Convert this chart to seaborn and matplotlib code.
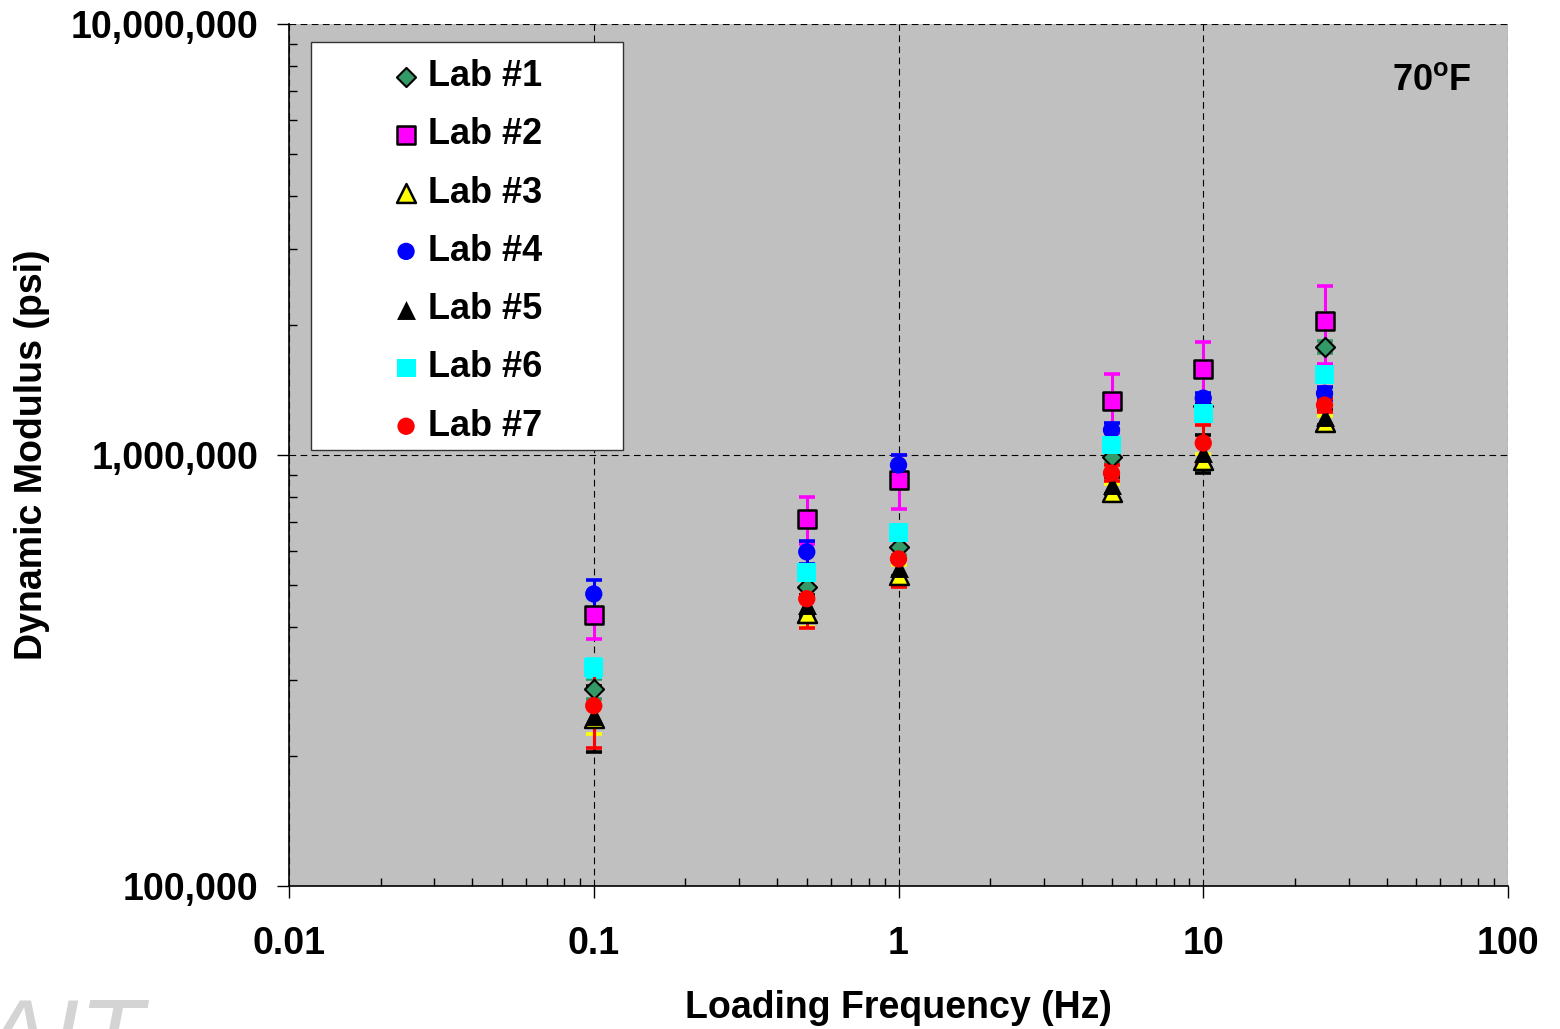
import matplotlib
matplotlib.use('Agg')
import matplotlib.pyplot as plt
import seaborn as sns
import pandas as pd
from matplotlib.patches import Rectangle
from matplotlib.ticker import FixedLocator, FixedFormatter, LogLocator, NullFormatter

# ---------------- data ----------------
freqs = [0.1, 0.5, 1, 5, 10, 25]
lab_names = ['Lab #1', 'Lab #2', 'Lab #3', 'Lab #4', 'Lab #5', 'Lab #6', 'Lab #7']

lab1 = [287000, 494000, 612000, 990000, 1300000, 1780000]
lab2 = [425000, 710000, 875000, 1334000, 1583000, 2046000]
lab3 = [245000, 430000, 527000, 821000, 974000, 1190000]
lab4 = [476000, 596000, 948000, 1143000, 1355000, 1390000]
lab5 = [248000, 449000, 548000, 851000, 1010000, 1225000]
lab6 = [321000, 535000, 662000, 1055000, 1250000, 1540000]
lab7 = [262000, 464000, 574000, 908000, 1066000, 1306000]

lab1_err = [15000, 20000, 25000, 30000, 40000, 60000]
lab2_err = [51000, 89000, 125000, 208000, 247000, 420000]
lab3_err = [20000, 30000, 30000, 35000, 30000, 40000]
lab4_err = [37000, 36000, 52000, 45000, 40000, 50000]
lab5_err = [43000, 25000, 25000, 40000, 100000, 50000]
lab6_err = [15000, 20000, 20000, 25000, 30000, 30000]
lab7_err = [53000, 67000, 80000, 40000, 107000, 50000]

x_ticks = [0.01, 0.1, 1, 10, 100]
x_tick_labels = ['0.01', '0.1', '1', '10', '100']
y_ticks = [1e5, 1e6, 1e7]
y_tick_labels = ['100,000', '1,000,000', '10,000,000']

values = [lab1, lab2, lab3, lab4, lab5, lab6, lab7]
errors = [lab1_err, lab2_err, lab3_err, lab4_err, lab5_err, lab6_err, lab7_err]

rows = []
for name, vals, errs in zip(lab_names, values, errors):
    for f, v, e in zip(freqs, vals, errs):
        rows.append({'lab': name, 'freq': f, 'modulus': v, 'err': e})
df = pd.DataFrame(rows)

# ---------------- styles ----------------
styles = {
    'Lab #1': dict(marker='D', fill='#339966', edge='black', lw=1.5, s=95, ecol='#339966'),
    'Lab #2': dict(marker='s', fill='#FF00FF', edge='black', lw=1.8, s=165, ecol='#FF00FF'),
    'Lab #3': dict(marker='^', fill='#FFFF00', edge='black', lw=1.8, s=185, ecol='#FFFF00'),
    'Lab #4': dict(marker='o', fill='#0000FF', edge='none', lw=0, s=155, ecol='#0000FF'),
    'Lab #5': dict(marker='^', fill='black', edge='black', lw=0, s=185, ecol='black'),
    'Lab #6': dict(marker='s', fill='#00FFFF', edge='none', lw=0, s=185, ecol='#00FFFF'),
    'Lab #7': dict(marker='o', fill='#FF0000', edge='none', lw=0, s=155, ecol='#FF0000'),
}

sns.set_style('ticks')
plt.rcParams['font.family'] = ['Liberation Sans', 'DejaVu Sans']
plt.rcParams['font.weight'] = 'bold'
plt.rcParams['text.color'] = 'black'
plt.rcParams['axes.labelcolor'] = 'black'
plt.rcParams['xtick.color'] = 'black'
plt.rcParams['ytick.color'] = 'black'
plt.rcParams['mathtext.fontset'] = 'custom'
plt.rcParams['mathtext.rm'] = 'Liberation Sans:bold'
plt.rcParams['mathtext.bf'] = 'Liberation Sans:bold'
plt.rcParams['mathtext.it'] = 'Liberation Sans:bold'

W, H = 1560, 1029
fig = plt.figure(figsize=(W / 100, H / 100), dpi=100)
L, R, T, B = 289, 1508, 24, 886
ax = fig.add_axes([L / W, 1 - B / H, (R - L) / W, (B - T) / H])
ax.set_facecolor('#C0C0C0')
ax.set_xscale('log')
ax.set_yscale('log')
ax.set_xlim(0.01, 100)
ax.set_ylim(1e5, 1e7)


def axx(px):
    return (px - L) / (R - L)


def axy(py):
    return (B - py) / (B - T)


# error bars
for name in lab_names:
    d = df[df['lab'] == name]
    st = styles[name]
    ax.errorbar(d['freq'], d['modulus'], yerr=d['err'], fmt='none',
                ecolor=st['ecol'], elinewidth=2.2, capsize=6, capthick=2.6, zorder=2)

# markers
for name in lab_names:
    d = df[df['lab'] == name]
    st = styles[name]
    sns.scatterplot(data=d, x='freq', y='modulus', ax=ax, marker=st['marker'], s=st['s'],
                    color=st['fill'], edgecolor=st['edge'], linewidth=st['lw'],
                    label=name, zorder=3, legend=False)

# grid, spines, ticks
ax.grid(which='major', color='black', linestyle=(0, (6, 4)), linewidth=0.8)
ax.grid(which='minor', visible=False)
for sp in ['top', 'right']:
    ax.spines[sp].set_visible(False)
for sp in ['left', 'bottom']:
    ax.spines[sp].set_color('black')
    ax.spines[sp].set_linewidth(1.2)

ax.xaxis.set_major_locator(FixedLocator(x_ticks))
ax.xaxis.set_major_formatter(FixedFormatter(x_tick_labels))
ax.yaxis.set_major_locator(FixedLocator(y_ticks))
ax.yaxis.set_major_formatter(FixedFormatter(y_tick_labels))
ax.xaxis.set_minor_locator(LogLocator(base=10, subs=range(2, 10)))
ax.yaxis.set_minor_locator(LogLocator(base=10, subs=range(2, 10)))
ax.xaxis.set_minor_formatter(NullFormatter())
ax.yaxis.set_minor_formatter(NullFormatter())

ax.tick_params(which='major', direction='out', length=8.6, width=1, color='black',
               labelcolor='black', labelsize=27, top=False, right=False)
ax.tick_params(axis='x', which='major', pad=20)
ax.tick_params(axis='y', which='major', pad=13.5)
ax.tick_params(which='minor', direction='in', length=6, width=1, color='black',
               top=False, right=False)
for lbl in ax.get_xticklabels() + ax.get_yticklabels():
    lbl.set_fontweight('bold')

ax.set_xlabel('Loading Frequency (Hz)', fontsize=27, fontweight='bold', color='black')
ax.set_ylabel('Dynamic Modulus (psi)', fontsize=27, fontweight='bold', color='black')
ax.xaxis.set_label_coords(0.5, axy(990))
ax.yaxis.set_label_coords(axx(50), 0.5)

# legend box and legend
ax.add_patch(Rectangle((axx(311), axy(450)), axx(623) - axx(311), axy(42) - axy(450),
                       transform=ax.transAxes, facecolor='white', edgecolor='#333333',
                       linewidth=1.0, zorder=4))
handles, labels = ax.get_legend_handles_labels()
leg = ax.legend(handles, labels, loc='upper left', bbox_to_anchor=(axx(388), axy(59)),
                frameon=False, borderpad=0, borderaxespad=0, handlelength=1.0,
                handletextpad=0.12, labelspacing=0.645, scatterpoints=1,
                prop={'weight': 'bold', 'size': 26, 'family': 'Liberation Sans'})
leg.set_zorder(5)
for t in leg.get_texts():
    t.set_color('black')

ax.text(axx(1472), axy(80), r'$\mathbf{70^{o}F}$', transform=ax.transAxes,
        ha='right', va='center', fontsize=26, color='black', zorder=5)

# faint watermark at bottom-left
fig.text(-0.012, -0.042, 'AIT', fontsize=75, style='italic', fontweight='normal',
         color='#d4d4d4', ha='left', va='baseline')

fig.savefig('out.png', dpi=100)
